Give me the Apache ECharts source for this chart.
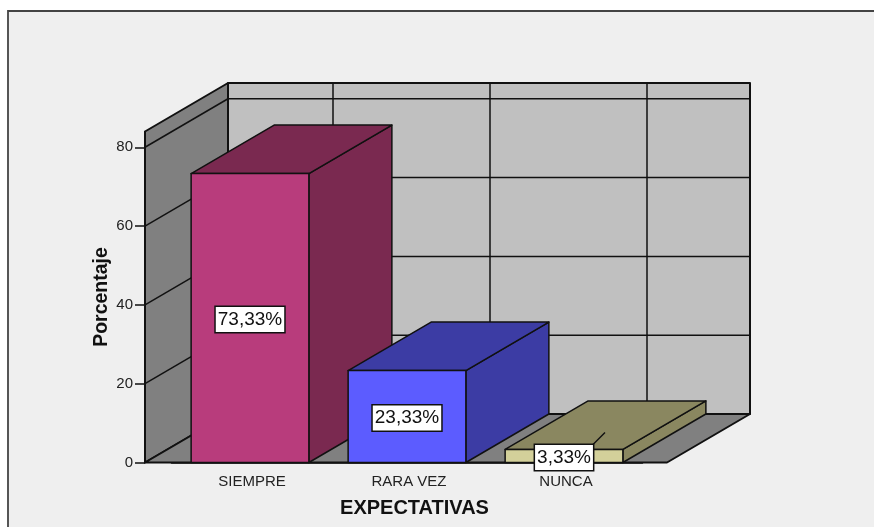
<!DOCTYPE html>
<html><head><meta charset="utf-8">
<style>html,body{margin:0;padding:0;background:#fff}#c{width:874px;height:527px}</style>
<script src="https://cdn.jsdelivr.net/npm/echarts@6/dist/echarts.min.js"></script>
</head><body><div id="c"></div>
<script>
var categories = ['SIEMPRE', 'RARA VEZ', 'NUNCA'];
var percentValues = [73.33, 23.33, 3.33];
var percentLabels = ['73,33%', '23,33%', '3,33%'];
var yTicks = [0, 20, 40, 60, 80];
var yMax = 84;
var frontColors = ['#b83c7c', '#5c5cff', '#d3d09a'];
var sideColors = ['#7a2950', '#3c3ca4', '#8a8760'];

var DX = 83, DY = -48.5;
var PAD_L = 105 / 157, PAD_R = 103 / 157;
var INK = '#111';

function poly(pts, fill, lw) {
  return { type: 'polygon', shape: { points: pts },
    style: { fill: fill, stroke: INK, lineWidth: lw || 1.5, lineJoin: 'round' } };
}
function seg(a, b, lw) {
  return { type: 'line', shape: { x1: a[0], y1: a[1], x2: b[0], y2: b[1] },
    style: { stroke: INK, lineWidth: lw || 1.5, fill: null } };
}

function renderWalls(params, api) {
  var band = api.size([1, 0])[0];
  var o = api.coord([0, 0]);
  var last = api.coord([2, 0]);
  var top = api.coord([0, yMax])[1];
  var base = o[1];
  var L = o[0] - PAD_L * band, R = last[0] + PAD_R * band;
  var ch = [];
  ch.push(poly([[L, top], [L + DX, top + DY], [L + DX, base + DY], [L, base]], '#808080', 2));
  ch.push(poly([[L + DX, top + DY], [R + DX, top + DY], [R + DX, base + DY], [L + DX, base + DY]], '#c0c0c0', 2));
  ch.push(poly([[L, base], [L + DX, base + DY], [R + DX, base + DY], [R, base]], '#808080', 2));
  yTicks.forEach(function (v) {
    if (!v) return;
    var y = api.coord([0, v])[1];
    ch.push(seg([L, y], [L + DX, y + DY]));
    ch.push(seg([L + DX, y + DY], [R + DX, y + DY]));
  });
  categories.forEach(function (c, i) {
    var x = api.coord([i, 0])[0] + DX;
    ch.push(seg([x, top + DY], [x, base + DY]));
  });
  return { type: 'group', children: ch };
}

function renderBar(params, api) {
  var i = api.value(0), v = api.value(1);
  var p = api.coord([i, v]), b = api.coord([i, 0]);
  var w = api.size([1, 0])[0] * 0.75;
  var x0 = p[0] - w / 2, x1 = p[0] + w / 2, yt = p[1], yb = b[1];
  return { type: 'group', children: [
    poly([[x1, yt], [x1 + DX, yt + DY], [x1 + DX, yb + DY], [x1, yb]], sideColors[i]),
    poly([[x0, yt], [x0 + DX, yt + DY], [x1 + DX, yt + DY], [x1, yt]], sideColors[i]),
    poly([[x0, yt], [x1, yt], [x1, yb], [x0, yb]], frontColors[i])
  ]};
}

function renderLabel(params, api) {
  var i = api.value(0), v = api.value(1);
  var p = api.coord([i, v]), b = api.coord([i, 0]);
  var cy = (p[1] + b[1]) / 2 + 1.5;
  var ch = [];
  if (i === 2) ch.push(seg([p[0] + 29, cy - 13], [p[0] + 41, cy - 25]));
  ch.push({ type: 'text', x: p[0], y: cy, style: {
    text: percentLabels[i], x: 0, y: 0, align: 'center', verticalAlign: 'middle',
    font: '19px "Liberation Sans", Arial, sans-serif', fill: '#111',
    backgroundColor: '#fff', borderColor: INK, borderWidth: 1.5, padding: [3, 2, 3, 2]
  }});
  return { type: 'group', children: ch };
}

var barData = percentValues.map(function (v, i) { return [i, v]; });

var chart = echarts.init(document.getElementById('c'), null, { renderer: 'canvas' });
chart.setOption({
  animation: false,
  backgroundColor: '#fff',
  graphic: [{ type: 'rect', z: -10, silent: true,
    shape: { x: 8, y: 11, width: 900, height: 560 },
    style: { fill: '#efefef', stroke: '#444', lineWidth: 1.8 } }],
  grid: { left: 171.5, width: 471, top: 131.5, height: 331, containLabel: false },
  xAxis: {
    type: 'category', data: categories,
    name: 'EXPECTATIVAS', nameLocation: 'middle', nameGap: 36,
    nameTextStyle: { fontWeight: 'bold', fontSize: 20, fontFamily: 'Liberation Sans', color: '#111', padding: [0, 0, 0, 15] },
    axisLine: { lineStyle: { color: INK, width: 1.5 } },
    axisTick: { alignWithLabel: true, length: 8, lineStyle: { color: INK, width: 1.5 } },
    axisLabel: { fontSize: 15, fontFamily: 'Liberation Sans', color: '#222', margin: 12, padding: [0, 0, 0, 4] }
  },
  yAxis: {
    type: 'value', min: 0, max: yMax, interval: 20, offset: 26.5,
    name: 'Porcentaje', nameLocation: 'middle', nameGap: 33, nameMoveOverlap: false,
    nameTextStyle: { fontWeight: 'bold', fontSize: 19.5, fontFamily: 'Liberation Sans', color: '#111' },
    splitLine: { show: false },
    axisLine: { show: true, lineStyle: { color: INK, width: 1.5 } },
    axisTick: { show: true, length: 10, customValues: yTicks, lineStyle: { color: INK, width: 1.5 } },
    axisLabel: { fontSize: 15, fontFamily: 'Liberation Sans', color: '#222', margin: 12, padding: [3, 0, 0, 0], customValues: yTicks }
  },
  series: [
    { type: 'custom', name: 'walls', z: 1, silent: true, renderItem: renderWalls, data: [[0, 0]], clip: false },
    { type: 'custom', name: 'Porcentaje', z: 2, renderItem: renderBar, data: barData, clip: false,
      encode: { x: 0, y: 1 } },
    { type: 'custom', name: 'labels', z: 3, silent: true, renderItem: renderLabel, data: barData, clip: false,
      encode: { x: 0, y: 1 } }
  ]
});
</script></body></html>
